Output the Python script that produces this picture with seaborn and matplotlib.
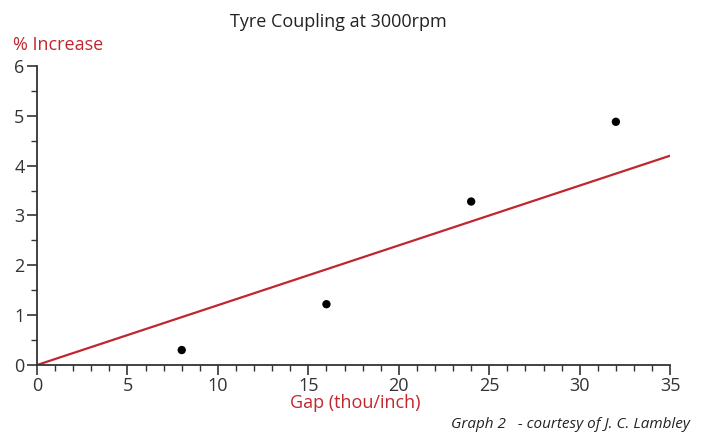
import numpy as np
import pandas as pd
import matplotlib
matplotlib.use('Agg')
import matplotlib.pyplot as plt
import seaborn as sns
from matplotlib.ticker import MultipleLocator

# Dados
gap = [8, 16, 24, 32]
increase = [0.3, 1.22, 3.28, 4.88]
fit_x = [0, 35]
fit_y = [0, 4.2]

sns.set_style('white')
plt.rcParams['font.family'] = ['Open Sans', 'DejaVu Sans']

red = '#c0272d'
df = pd.DataFrame({'gap': gap, 'increase': increase})
fit = pd.DataFrame({'x': fit_x, 'y': fit_y})

fig = plt.figure(figsize=(7.09, 4.34), dpi=100)
ax = fig.add_axes([0.0522, 0.159, 0.893, 0.689])

sns.lineplot(data=fit, x='x', y='y', ax=ax, color=red, linewidth=1.6)
sns.scatterplot(data=df, x='gap', y='increase', ax=ax, color='black', s=36, edgecolor='none', zorder=3)

ax.set_xlim(0, 35)
ax.set_ylim(0, 6)
ax.xaxis.set_major_locator(MultipleLocator(5))
ax.xaxis.set_minor_locator(MultipleLocator(1))
ax.yaxis.set_major_locator(MultipleLocator(1))
ax.yaxis.set_minor_locator(MultipleLocator(0.5))
ax.tick_params(which='major', direction='out', length=7, width=1.2, color='#333333',
               labelsize=13, labelcolor='#333333', pad=2, bottom=True, left=True)
ax.tick_params(which='minor', direction='out', length=4, width=1.0, color='#333333',
               bottom=True, left=True)
for s in ['top', 'right']:
    ax.spines[s].set_visible(False)
for s in ['left', 'bottom']:
    ax.spines[s].set_color('#333333')
    ax.spines[s].set_linewidth(1.3)

ax.set_xlabel('')
ax.set_ylabel('')
fig.text(338 / 709, 1 - 22 / 434, 'Tyre Coupling at 3000rpm', ha='center', va='center',
         fontsize=13, color='#222222')
fig.text(13 / 709, 1 - 45 / 434, '% Increase', ha='left', va='center', fontsize=13, color=red)
fig.text(355 / 709, 1 - 403 / 434, 'Gap (thou/inch)', ha='center', va='center', fontsize=13, color=red)
fig.text(690 / 709, 1 - 424 / 434, 'Graph 2   - courtesy of J. C. Lambley', ha='right', va='center',
         fontsize=11, style='italic', color='#222222')

plt.savefig('out.png', dpi=100)
plt.close()
